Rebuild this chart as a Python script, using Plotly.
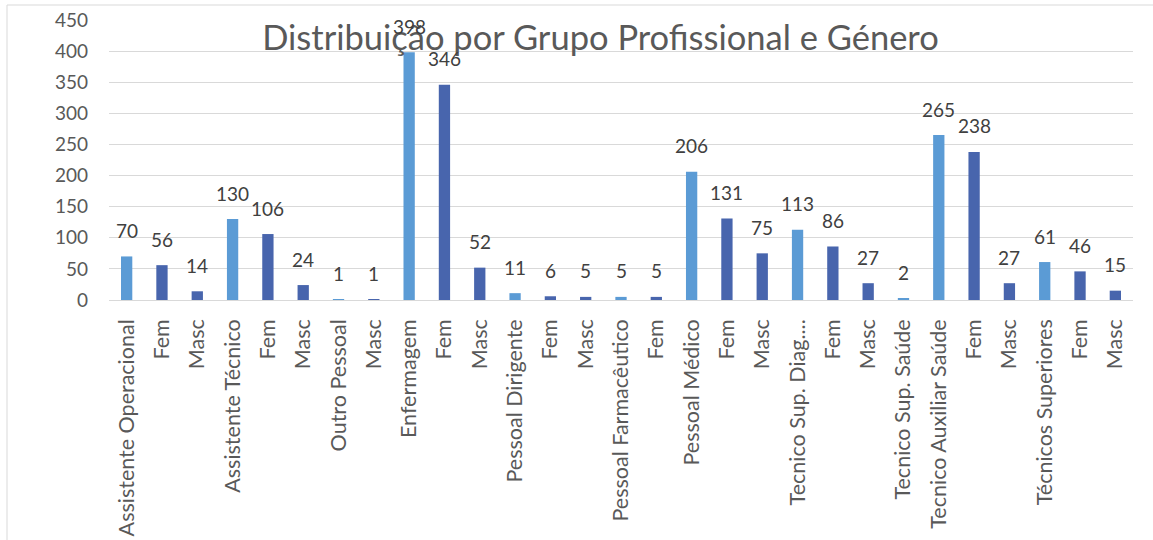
import plotly.graph_objects as go

labels = ["Assistente Operacional", "Fem", "Masc",
          "Assistente Técnico", "Fem", "Masc",
          "Outro Pessoal", "Masc",
          "Enfermagem", "Fem", "Masc",
          "Pessoal Dirigente", "Fem", "Masc",
          "Pessoal Farmacêutico", "Fem",
          "Pessoal Médico", "Fem", "Masc",
          "Tecnico Sup. Diag....", "Fem", "Masc",
          "Tecnico Sup. Saúde",
          "Tecnico Auxiliar Saúde", "Fem", "Masc",
          "Técnicos Superiores", "Fem", "Masc"]
values = [70, 56, 14,
          130, 106, 24,
          1, 1,
          398, 346, 52,
          11, 6, 5,
          5, 5,
          206, 131, 75,
          113, 86, 27,
          2,
          265, 238, 27,
          61, 46, 15]
y_ticks = [0, 50, 100, 150, 200, 250, 300, 350, 400, 450]
title = "Distribuição por Grupo Profissional e Género"

LIGHT = "#5B9BD5"
DARK = "#4865AD"
FONT = "Lato"
TXT = "#595959"

xpos = list(range(len(labels)))
colors = [DARK if l in ("Fem", "Masc") else LIGHT for l in labels]

fig = go.Figure()
fig.add_trace(go.Bar(x=xpos, y=values, marker=dict(color=colors, line=dict(width=0)),
                     width=0.32, hoverinfo="skip"))

for x, v in zip(xpos, values):
    fig.add_annotation(x=x, y=v, text=str(v), showarrow=False, yanchor="middle",
                       yshift=26, font=dict(family=FONT, size=19, color="#404040"))

W, H = 1153, 540
L, R, T, B = 109, 20, 20, 240
pw, ph = W - L - R, H - T - B

def px(xp):
    return (xp - L) / pw

def py(yp):
    return (H - B - yp) / ph

fig.add_shape(type="rect", xref="paper", yref="paper",
              x0=px(7), x1=px(1160), y0=py(600), y1=py(5),
              line=dict(color="#D9D9D9", width=1), fillcolor="rgba(0,0,0,0)", layer="below")

fig.update_layout(
    width=W, height=H,
    margin=dict(l=L, r=R, t=T, b=B, autoexpand=False),
    paper_bgcolor="white", plot_bgcolor="white",
    showlegend=False,
    title=dict(text=title, x=(263 + 938) / 2 / W, xanchor="center",
               y=1 - 38 / H, yanchor="middle", yref="container",
               font=dict(family=FONT, size=34.5, color=TXT)),
    xaxis=dict(tickmode="array", tickvals=xpos, ticktext=labels, tickangle=-90,
               range=[-0.5, len(labels) - 0.5], showgrid=False, zeroline=False,
               showline=False, ticks="", ticklabelstandoff=14, automargin=False,
               tickfont=dict(family=FONT, size=21.5, color=TXT)),
    yaxis=dict(range=[0, 450], tickvals=y_ticks, showgrid=True, gridcolor="#D9D9D9",
               gridwidth=1, zeroline=True, zerolinecolor="#D9D9D9", zerolinewidth=1,
               showline=False, ticks="", ticklabelstandoff=20, automargin=False,
               tickfont=dict(family=FONT, size=19, color=TXT)),
)

fig.write_html("out.html", config={"displayModeBar": False},
               post_script="document.body.style.margin='0';document.body.style.overflow='hidden';")
